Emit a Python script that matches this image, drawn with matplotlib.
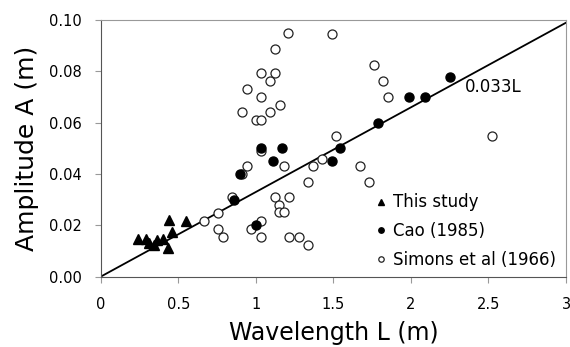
import numpy as np
import matplotlib
matplotlib.use('Agg')
import matplotlib.pyplot as plt

## data
this_L = [0.24, 0.29, 0.31, 0.34, 0.36, 0.40, 0.43, 0.44, 0.46, 0.55]
this_A = [0.0145, 0.0145, 0.0132, 0.0125, 0.0143, 0.0145, 0.011, 0.022, 0.0172, 0.0215]

cao_L = [0.86, 0.90, 1.00, 1.03, 1.11, 1.17, 1.49, 1.54, 1.79, 1.99, 2.09, 2.25]
cao_A = [0.030, 0.040, 0.020, 0.050, 0.045, 0.050, 0.045, 0.050, 0.060, 0.070, 0.070, 0.078]

sim_L = [0.667, 0.757, 0.757, 0.789, 0.845, 0.91, 0.911, 0.94, 0.94, 0.969,
         0.998, 1.032, 1.032, 1.032, 1.032, 1.032, 1.032, 1.092, 1.092, 1.12,
         1.123, 1.123, 1.153, 1.15, 1.15, 1.183, 1.183, 1.21, 1.213, 1.213,
         1.275, 1.335, 1.338, 1.366, 1.428, 1.488, 1.518, 1.671, 1.731, 1.762,
         1.822, 1.851, 2.523]
sim_A = [0.0215, 0.0246, 0.0185, 0.0155, 0.031, 0.064, 0.040, 0.073, 0.043, 0.0185,
         0.061, 0.061, 0.070, 0.0795, 0.0488, 0.0216, 0.0155, 0.0763, 0.064, 0.0886,
         0.0795, 0.031, 0.067, 0.028, 0.025, 0.025, 0.043, 0.0948, 0.031, 0.0155,
         0.0155, 0.0125, 0.0367, 0.043, 0.0457, 0.0947, 0.055, 0.043, 0.0367, 0.0825,
         0.0763, 0.070, 0.055]

slope = 0.033  ## A = 0.033 L
L_line = np.array([0, 3])

fig = plt.figure(figsize=(5.7, 3.47), dpi=100)
ax = fig.add_axes([0.177, 0.203, 0.816, 0.739])

ax.plot(L_line, slope * L_line, color='black', lw=1.3, zorder=2)
ax.plot(sim_L, sim_A, 'o', ms=6.5, mfc='white', mec='#222222', mew=0.9,
        label='Simons et al (1966)', zorder=3)
ax.plot(cao_L, cao_A, 'o', ms=6.5, mfc='black', mec='black',
        label='Cao (1985)', zorder=4)
ax.plot(this_L, this_A, '^', ms=7, mfc='black', mec='black',
        label='This study', zorder=5)

ax.text(2.35, 0.074, '0.033L', fontsize=12, va='center', ha='left')

ax.set_xlim(0, 3)
ax.set_ylim(0, 0.10)
ax.set_xticks([0, 0.5, 1, 1.5, 2, 2.5, 3])
ax.set_xticklabels(['0', '0.5', '1', '1.5', '2', '2.5', '3'])
ax.set_yticks(np.arange(0, 0.101, 0.02))
ax.set_yticklabels(['%.2f' % v for v in np.arange(0, 0.101, 0.02)])
ax.tick_params(labelsize=10.5, length=4, color='#999999')
ax.tick_params(axis='x', pad=10.5)
ax.tick_params(axis='y', pad=10)
ax.set_xlabel('Wavelength L (m)', fontsize=17, labelpad=7)
ax.set_ylabel('Amplitude A (m)', fontsize=18, labelpad=7)

for s in ['left', 'bottom']:
    ax.spines[s].set_color('#555555')
for s in ['top', 'right']:
    ax.spines[s].set_color('#999999')

h, l = ax.get_legend_handles_labels()
ax.legend(h[::-1], l[::-1], loc='lower right', bbox_to_anchor=(1.0, -0.01),
          frameon=False, fontsize=12, markerscale=0.6, handlelength=0.6,
          handletextpad=0.45, labelspacing=0.65, borderaxespad=0.2)

fig.savefig('out.png', dpi=100)
